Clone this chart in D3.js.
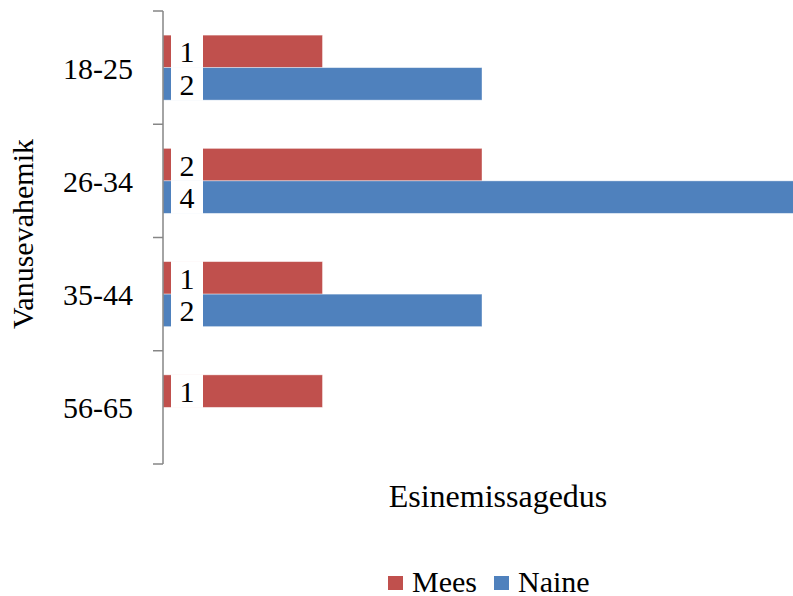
<!DOCTYPE html>
<html><head><meta charset="utf-8">
<script src="https://cdn.jsdelivr.net/npm/d3@7"></script>
</head><body style="margin:0">
<script>
const categories = ["18-25","26-34","35-44","56-65"];
const seriesNames = ["Mees","Naine"];
const mees = [1,2,1,1];
const naine = [2,4,2,null];
const colors = ["#C0504D","#4F81BD"];

const W=793,H=596;
const FS=30;
const svg=d3.select("body").append("svg").attr("width",W).attr("height",H).style("display","block");
function txt(){ return svg.append("text").style("font-family","Times New Roman").attr("font-size",FS); }
const x=d3.scaleLinear().domain([0,4]).range([163,801]);
const y=d3.scaleBand().domain(categories).range([11,464]).paddingInner(0.426).paddingOuter(0.213);
const ys=d3.scaleBand().domain(seriesNames).range([0,y.bandwidth()]);
const step=y.step();
const data=[mees,naine];

categories.forEach((c,i)=>{
  seriesNames.forEach((s,j)=>{
    const v=data[j][i];
    if(v==null) return;
    const yy=y(c)+ys(s);
    svg.append("rect").attr("x",x(0)).attr("y",yy).attr("width",x(v)-x(0)).attr("height",ys.bandwidth())
      .attr("fill",colors[j]).attr("stroke","rgba(255,255,255,0.5)").attr("stroke-width",0.8);
    svg.append("rect").attr("x",x(0)+8).attr("y",yy-0.5).attr("width",32).attr("height",ys.bandwidth()+1).attr("fill","#fff");
    txt().attr("x",x(0)+24).attr("y",yy+ys.bandwidth()/2+11).attr("text-anchor","middle").text(v);
  });
});

// axis
const g=svg.append("g").attr("stroke","#868686").attr("stroke-width",1.5);
g.append("line").attr("x1",163).attr("x2",163).attr("y1",11).attr("y2",464);
const bounds=categories.map(c=>y(c)-step*y.paddingInner()/2).concat([464]);
bounds.forEach(b=>g.append("line").attr("x1",153).attr("x2",163).attr("y1",b).attr("y2",b));
categories.forEach(c=>{
  txt().attr("x",133).attr("y",y(c)+y.bandwidth()/2+11).attr("text-anchor","end").text(c);
});

txt().attr("x",498).attr("y",507).attr("text-anchor","middle").attr("font-size",32).text("Esinemissagedus");
txt().attr("transform","translate(33,234) rotate(-90)").attr("text-anchor","middle").text("Vanusevahemik");

// legend
const lx=[388,494];
seriesNames.forEach((s,j)=>{
  svg.append("rect").attr("x",lx[j]).attr("y",576).attr("width",15).attr("height",14).attr("fill",colors[j]);
  txt().attr("x",lx[j]+24).attr("y",592).text(s);
});
</script>
</body></html>
